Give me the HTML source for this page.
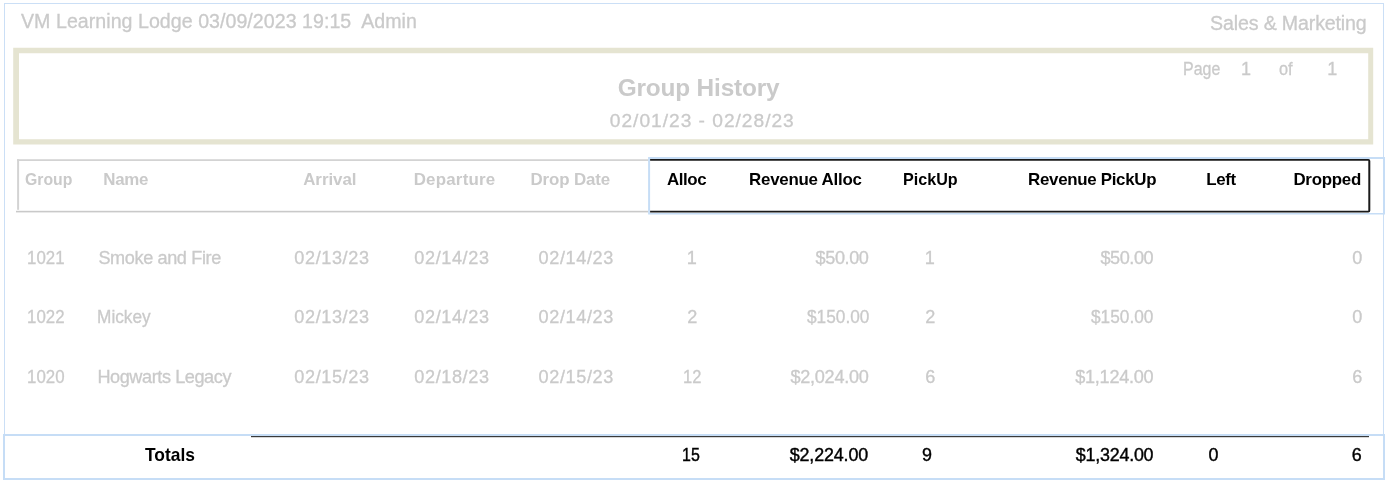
<!DOCTYPE html>
<html><head><meta charset="utf-8"><title>Group History</title>
<style>
html,body{margin:0;padding:0;background:#fff;}
body{width:1388px;height:485px;position:relative;overflow:hidden;font-family:"Liberation Sans",Arial,sans-serif;}
.t{position:absolute;white-space:pre;}
svg{position:absolute;left:0;top:0;}
</style></head><body>
<svg width="1388" height="485" viewBox="0 0 1388 485">
  <!-- outer frame -->
  <g fill="#cbdff6">
    <rect x="4" y="3" width="1380" height="1"/>
    <rect x="4" y="3" width="1" height="432"/>
    <rect x="1383" y="3" width="1" height="432"/>
  </g>
  <!-- beige title box -->
  <path fill="#e5e4d1" fill-rule="evenodd" d="M13.2 47.7H1373.2V144.4H13.2Z M19.0 53.2V139.2H1368.2V53.2Z"/>
  <!-- header left gray -->
  <rect x="17" y="159.3" width="631" height="1.6" fill="#cfcfcf"/>
  <rect x="17.1" y="159.3" width="2" height="50.5" fill="#d3d3d3"/>
  <rect x="16" y="210.8" width="632" height="1.6" fill="#c9c9c9"/>
  <!-- header right blue box -->
  <path fill="#c6ddf6" fill-rule="evenodd" d="M648.1 157.1H1385V214.6H648.1Z M650.1 158.9V213.0H1383V158.9Z"/>
  <!-- header right black box -->
  <path fill="#1a1a1a" d="M650.1 159.1H1368.3A2 2 0 0 1 1370.3 161.1V210.4A2 2 0 0 1 1368.3 212.4H650.1V210.8H1368.3V160.7H650.1Z"/>
  <!-- totals blue box -->
  <path fill="#c6ddf6" fill-rule="evenodd" d="M3 434H1385V480H3Z M5 436V478H1383V436Z"/>
  <rect x="251" y="436" width="1118" height="1.2" fill="#3a3a3a"/>
</svg>
<div class="t" style="left:21.00px;top:9.00px;font-size:19.6px;line-height:24px;color:#cacaca;-webkit-text-stroke:0.3px #cacaca;letter-spacing:0.037px;">VM Learning Lodge 03/09/2023 19:15  Admin</div>
<div class="t" style="left:1210.10px;top:10.80px;font-size:19.6px;line-height:24px;color:#cacaca;-webkit-text-stroke:0.3px #cacaca;letter-spacing:-0.150px;">Sales &amp; Marketing</div>
<div class="t" style="left:617.70px;top:72.60px;font-size:24.4px;line-height:29px;color:#cacaca;font-weight:bold;letter-spacing:-0.167px;">Group History</div>
<div class="t" style="left:609.80px;top:108.60px;font-size:19.2px;line-height:23px;color:#cacaca;-webkit-text-stroke:0.3px #cacaca;letter-spacing:0.975px;">02/01/23 - 02/28/23</div>
<div class="t" style="left:1183.00px;top:57.60px;font-size:18.0px;line-height:22px;color:#cacaca;-webkit-text-stroke:0.3px #cacaca;transform:scaleX(0.8848);transform-origin:1.00px 0;">Page</div>
<div class="t" style="left:1240.90px;top:57.60px;font-size:18.0px;line-height:22px;color:#cacaca;-webkit-text-stroke:0.3px #cacaca;">1</div>
<div class="t" style="left:1278.70px;top:57.60px;font-size:18.0px;line-height:22px;color:#cacaca;-webkit-text-stroke:0.3px #cacaca;transform:scaleX(0.9056);transform-origin:-0.00px 0;">of</div>
<div class="t" style="left:1327.20px;top:57.60px;font-size:18.0px;line-height:22px;color:#cacaca;-webkit-text-stroke:0.3px #cacaca;">1</div>
<div class="t" style="left:24.80px;top:169.70px;font-size:16.9px;line-height:20px;color:#cacaca;font-weight:bold;transform:scaleX(0.9355);transform-origin:-0.00px 0;">Group</div>
<div class="t" style="left:103.20px;top:169.70px;font-size:16.9px;line-height:20px;color:#cacaca;font-weight:bold;letter-spacing:-0.237px;">Name</div>
<div class="t" style="left:303.20px;top:169.70px;font-size:16.9px;line-height:20px;color:#cacaca;font-weight:bold;letter-spacing:-0.037px;">Arrival</div>
<div class="t" style="left:413.70px;top:169.70px;font-size:16.9px;line-height:20px;color:#cacaca;font-weight:bold;letter-spacing:0.214px;">Departure</div>
<div class="t" style="left:530.40px;top:169.70px;font-size:16.9px;line-height:20px;color:#cacaca;font-weight:bold;letter-spacing:-0.114px;">Drop Date</div>
<div class="t" style="left:666.90px;top:169.70px;font-size:16.9px;line-height:20px;color:#000;font-weight:bold;letter-spacing:-0.400px;">Alloc</div>
<div class="t" style="left:749.00px;top:169.70px;font-size:16.9px;line-height:20px;color:#000;font-weight:bold;letter-spacing:-0.233px;">Revenue Alloc</div>
<div class="t" style="left:903.40px;top:169.70px;font-size:16.9px;line-height:20px;color:#000;font-weight:bold;transform:scaleX(0.9545);transform-origin:1.00px 0;">PickUp</div>
<div class="t" style="left:1028.10px;top:169.70px;font-size:16.9px;line-height:20px;color:#000;font-weight:bold;letter-spacing:-0.303px;">Revenue PickUp</div>
<div class="t" style="left:1206.20px;top:169.70px;font-size:16.9px;line-height:20px;color:#000;font-weight:bold;letter-spacing:-0.345px;">Left</div>
<div class="t" style="left:1293.40px;top:169.70px;font-size:16.9px;line-height:20px;color:#000;font-weight:bold;letter-spacing:-0.253px;">Dropped</div>
<div class="t" style="left:27.20px;top:247.10px;font-size:18.1px;line-height:22px;color:#cacaca;-webkit-text-stroke:0.3px #cacaca;transform:scaleX(0.9314);transform-origin:1.00px 0;">1021</div>
<div class="t" style="left:98.40px;top:247.10px;font-size:18.1px;line-height:22px;color:#cacaca;-webkit-text-stroke:0.3px #cacaca;letter-spacing:-0.373px;">Smoke and Fire</div>
<div class="t" style="left:294.30px;top:247.10px;font-size:18.1px;line-height:22px;color:#cacaca;-webkit-text-stroke:0.3px #cacaca;letter-spacing:0.605px;">02/13/23</div>
<div class="t" style="left:414.30px;top:247.10px;font-size:18.1px;line-height:22px;color:#cacaca;-webkit-text-stroke:0.3px #cacaca;letter-spacing:0.605px;">02/14/23</div>
<div class="t" style="left:538.60px;top:247.10px;font-size:18.1px;line-height:22px;color:#cacaca;-webkit-text-stroke:0.3px #cacaca;letter-spacing:0.605px;">02/14/23</div>
<div class="t" style="left:686.70px;top:247.10px;font-size:18.1px;line-height:22px;color:#cacaca;-webkit-text-stroke:0.3px #cacaca;">1</div>
<div class="t" style="left:815.60px;top:247.10px;font-size:18.1px;line-height:22px;color:#cacaca;-webkit-text-stroke:0.3px #cacaca;letter-spacing:-0.416px;">$50.00</div>
<div class="t" style="left:924.70px;top:247.10px;font-size:18.1px;line-height:22px;color:#cacaca;-webkit-text-stroke:0.3px #cacaca;">1</div>
<div class="t" style="left:1100.40px;top:247.10px;font-size:18.1px;line-height:22px;color:#cacaca;-webkit-text-stroke:0.3px #cacaca;letter-spacing:-0.416px;">$50.00</div>
<div class="t" style="left:1352.30px;top:247.10px;font-size:18.1px;line-height:22px;color:#cacaca;-webkit-text-stroke:0.3px #cacaca;">0</div>
<div class="t" style="left:27.20px;top:305.60px;font-size:18.1px;line-height:22px;color:#cacaca;-webkit-text-stroke:0.3px #cacaca;transform:scaleX(0.9314);transform-origin:1.00px 0;">1022</div>
<div class="t" style="left:97.40px;top:305.60px;font-size:18.1px;line-height:22px;color:#cacaca;-webkit-text-stroke:0.3px #cacaca;transform:scaleX(0.9529);transform-origin:1.00px 0;">Mickey</div>
<div class="t" style="left:294.30px;top:305.60px;font-size:18.1px;line-height:22px;color:#cacaca;-webkit-text-stroke:0.3px #cacaca;letter-spacing:0.605px;">02/13/23</div>
<div class="t" style="left:414.30px;top:305.60px;font-size:18.1px;line-height:22px;color:#cacaca;-webkit-text-stroke:0.3px #cacaca;letter-spacing:0.605px;">02/14/23</div>
<div class="t" style="left:538.60px;top:305.60px;font-size:18.1px;line-height:22px;color:#cacaca;-webkit-text-stroke:0.3px #cacaca;letter-spacing:0.605px;">02/14/23</div>
<div class="t" style="left:687.20px;top:305.60px;font-size:18.1px;line-height:22px;color:#cacaca;-webkit-text-stroke:0.3px #cacaca;">2</div>
<div class="t" style="left:806.50px;top:305.60px;font-size:18.1px;line-height:22px;color:#cacaca;-webkit-text-stroke:0.3px #cacaca;transform:scaleX(0.9535);transform-origin:-0.00px 0;">$150.00</div>
<div class="t" style="left:925.20px;top:305.60px;font-size:18.1px;line-height:22px;color:#cacaca;-webkit-text-stroke:0.3px #cacaca;">2</div>
<div class="t" style="left:1091.30px;top:305.60px;font-size:18.1px;line-height:22px;color:#cacaca;-webkit-text-stroke:0.3px #cacaca;transform:scaleX(0.9535);transform-origin:-0.00px 0;">$150.00</div>
<div class="t" style="left:1352.30px;top:305.60px;font-size:18.1px;line-height:22px;color:#cacaca;-webkit-text-stroke:0.3px #cacaca;">0</div>
<div class="t" style="left:27.20px;top:365.50px;font-size:18.1px;line-height:22px;color:#cacaca;-webkit-text-stroke:0.3px #cacaca;transform:scaleX(0.9314);transform-origin:1.00px 0;">1020</div>
<div class="t" style="left:97.40px;top:365.50px;font-size:18.1px;line-height:22px;color:#cacaca;-webkit-text-stroke:0.3px #cacaca;letter-spacing:-0.410px;">Hogwarts Legacy</div>
<div class="t" style="left:294.30px;top:365.50px;font-size:18.1px;line-height:22px;color:#cacaca;-webkit-text-stroke:0.3px #cacaca;letter-spacing:0.605px;">02/15/23</div>
<div class="t" style="left:414.30px;top:365.50px;font-size:18.1px;line-height:22px;color:#cacaca;-webkit-text-stroke:0.3px #cacaca;letter-spacing:0.605px;">02/18/23</div>
<div class="t" style="left:538.60px;top:365.50px;font-size:18.1px;line-height:22px;color:#cacaca;-webkit-text-stroke:0.3px #cacaca;letter-spacing:0.605px;">02/15/23</div>
<div class="t" style="left:682.50px;top:365.50px;font-size:18.1px;line-height:22px;color:#cacaca;-webkit-text-stroke:0.3px #cacaca;transform:scaleX(0.9128);transform-origin:1.00px 0;">12</div>
<div class="t" style="left:790.40px;top:365.50px;font-size:18.1px;line-height:22px;color:#cacaca;-webkit-text-stroke:0.3px #cacaca;letter-spacing:-0.254px;">$2,024.00</div>
<div class="t" style="left:925.20px;top:365.50px;font-size:18.1px;line-height:22px;color:#cacaca;-webkit-text-stroke:0.3px #cacaca;">6</div>
<div class="t" style="left:1075.20px;top:365.50px;font-size:18.1px;line-height:22px;color:#cacaca;-webkit-text-stroke:0.3px #cacaca;letter-spacing:-0.254px;">$1,124.00</div>
<div class="t" style="left:1352.30px;top:365.50px;font-size:18.1px;line-height:22px;color:#cacaca;-webkit-text-stroke:0.3px #cacaca;">6</div>
<div class="t" style="left:682.35px;top:445.20px;font-size:17.9px;line-height:21px;color:#000;-webkit-text-stroke:0.4px #000;transform:scaleX(0.8918);transform-origin:1.00px 0;">15</div>
<div class="t" style="left:789.70px;top:445.20px;font-size:17.9px;line-height:21px;color:#000;-webkit-text-stroke:0.4px #000;letter-spacing:-0.143px;">$2,224.00</div>
<div class="t" style="left:922.10px;top:445.20px;font-size:17.9px;line-height:21px;color:#000;-webkit-text-stroke:0.4px #000;">9</div>
<div class="t" style="left:1075.80px;top:445.20px;font-size:17.9px;line-height:21px;color:#000;-webkit-text-stroke:0.4px #000;letter-spacing:-0.230px;">$1,324.00</div>
<div class="t" style="left:1208.40px;top:445.20px;font-size:17.9px;line-height:21px;color:#000;-webkit-text-stroke:0.4px #000;">0</div>
<div class="t" style="left:1351.80px;top:445.20px;font-size:17.9px;line-height:21px;color:#000;-webkit-text-stroke:0.4px #000;">6</div>
<div class="t" style="left:145.10px;top:444.20px;font-size:18.2px;line-height:22px;color:#000;font-weight:bold;transform:scaleX(0.9560);transform-origin:-0.00px 0;">Totals</div>
</body></html>
